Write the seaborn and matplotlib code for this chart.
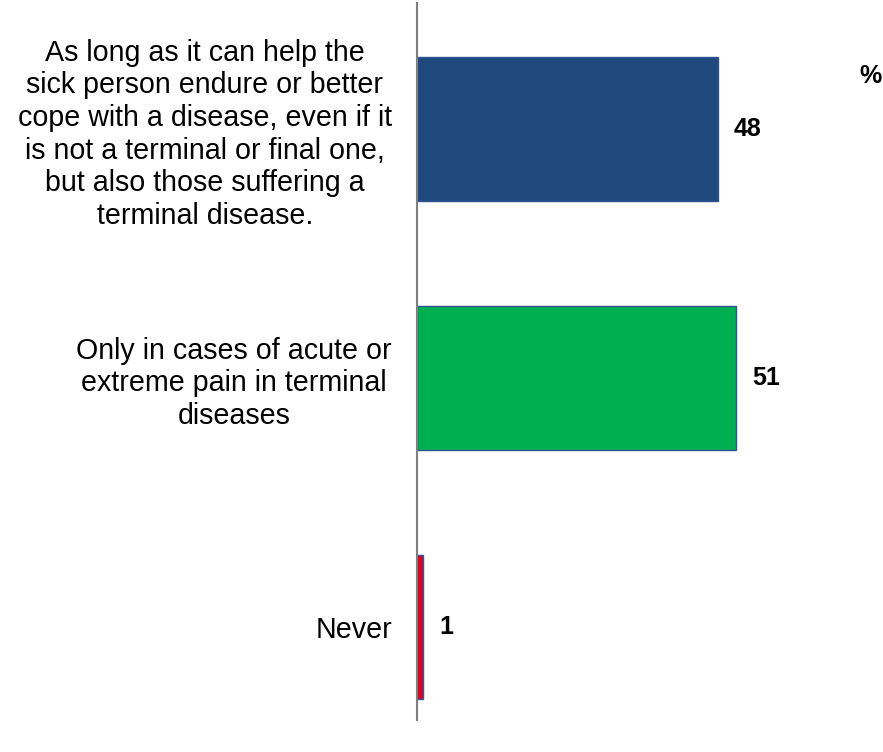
import matplotlib
matplotlib.use("Agg")
import matplotlib.pyplot as plt
import seaborn as sns
import pandas as pd

categories = [
    "As long as it can help the\nsick person endure or better\ncope with a disease, even if it\nis not a terminal or final one,\nbut also those suffering a\nterminal disease.",
    "Only in cases of acute or\nextreme pain in terminal\ndiseases",
    "Never",
]
values = [48, 51, 1]
bar_colors = ["#1F497D", "#00B050", "#E0001B"]

sns.set_style("white")
plt.rcParams["font.family"] = ["Liberation Sans", "DejaVu Sans"]

df = pd.DataFrame({"answer": categories, "pct": values})

fig = plt.figure(figsize=(8.83, 7.52), dpi=100)
ax = fig.add_axes([417 / 883, 1 - 720 / 752, 1 - 417 / 883, 717 / 752])

sns.barplot(
    data=df, x="pct", y="answer", hue="answer", palette=bar_colors,
    legend=False, width=0.58, saturation=1, edgecolor="#2F5597",
    linewidth=1.0, orient="h", ax=ax,
)

ax.set_xlim(0, 74.4)
ax.set_ylim(2.373, -0.506)
ax.set_xlabel("")
ax.set_ylabel("")
ax.set_xticks([])

for side in ("top", "right", "bottom"):
    ax.spines[side].set_visible(False)
ax.spines["left"].set_color("#7F7F7F")
ax.spines["left"].set_linewidth(1.5)

ax.tick_params(axis="y", length=0, pad=18, colors="black")
for lbl in ax.get_yticklabels():
    lbl.set_fontsize(20.6)
    lbl.set_color("black")
    lbl.set_multialignment("center")
    lbl.set_linespacing(1.21)

for i, v in enumerate(values):
    ax.text(v + 2.5, i, f"{v}", va="center", ha="left",
            fontsize=18, fontweight="bold", color="black")

fig.text(871 / 883, 1 - 76 / 752, "%", ha="center", va="center",
         fontsize=18, fontweight="bold", color="black")

fig.savefig("out.png", dpi=100, facecolor="white")
